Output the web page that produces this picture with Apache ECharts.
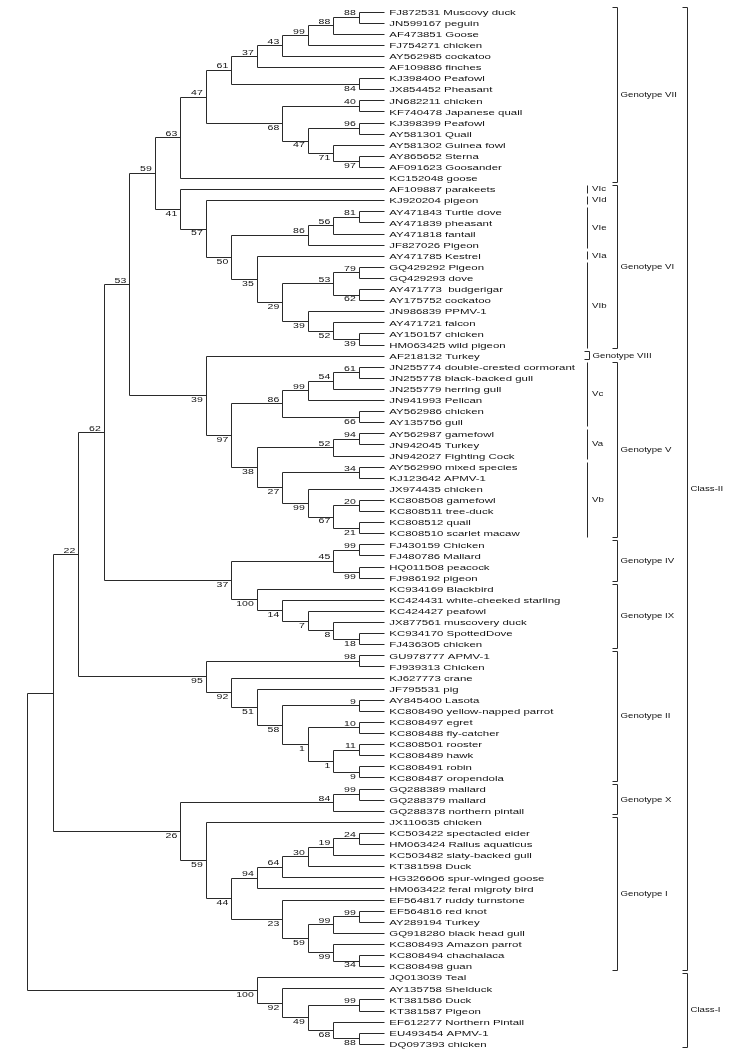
<!DOCTYPE html>
<html><head><meta charset="utf-8">
<script src="https://cdn.jsdelivr.net/npm/echarts@6/dist/echarts.min.js"></script>
<style>html,body{margin:0;padding:0;background:#fff}#c{width:747px;height:1056px}</style>
</head><body><div id="c"></div>
<script>
// ---------- DATA ----------
const leafNames = [
"FJ872531 Muscovy duck","JN599167 peguin","AF473851 Goose","FJ754271 chicken","AY562985 cockatoo",
"AF109886 finches","KJ398400 Peafowl","JX854452 Pheasant","JN682211 chicken","KF740478 Japanese quail",
"KJ398399 Peafowl","AY581301 Quail","AY581302 Guinea fowl","AY865652 Sterna","AF091623 Goosander",
"KC152048 goose","AF109887 parakeets","KJ920204 pigeon","AY471843 Turtle dove","AY471839 pheasant",
"AY471818 fantail","JF827026 Pigeon","AY471785 Kestrel","GQ429292 Pigeon","GQ429293 dove",
"AY471773  budgerigar","AY175752 cockatoo","JN986839 PPMV-1","AY471721 falcon","AY150157 chicken",
"HM063425 wild pigeon","AF218132 Turkey","JN255774 double-crested cormorant","JN255778 black-backed gull","JN255779 herring gull",
"JN941993 Pelican","AY562986 chicken","AY135756 gull","AY562987 gamefowl","JN942045 Turkey",
"JN942027 Fighting Cock","AY562990 mixed species","KJ123642 APMV-1","JX974435 chicken","KC808508 gamefowl",
"KC808511 tree-duck","KC808512 quail","KC808510 scarlet macaw","FJ430159 Chicken","FJ480786 Mallard",
"HQ011508 peacock","FJ986192 pigeon","KC934169 Blackbird","KC424431 white-cheeked starling","KC424427 peafowl",
"JX877561 muscovery duck","KC934170 SpottedDove","FJ436305 chicken","GU978777 APMV-1","FJ939313 Chicken",
"KJ627773 crane","JF795531 pig","AY845400 Lasota","KC808490 yellow-napped parrot","KC808497 egret",
"KC808488 fly-catcher","KC808501 rooster","KC808489 hawk","KC808491 robin","KC808487 oropendola",
"GQ288389 mallard","GQ288379 mallard","GQ288378 northern pintail","JX110635 chicken","KC503422 spectacled eider",
"HM063424 Rallus aquaticus","KC503482 slaty-backed gull","KT381598 Duck","HG326606 spur-winged goose","HM063422 feral migroty bird",
"EF564817 ruddy turnstone","EF564816 red knot","AY289194 Turkey","GQ918280 black head gull","KC808493 Amazon parrot",
"KC808494 chachalaca","KC808498 guan","JQ013039 Teal","AY135758 Shelduck","KT381586 Duck",
"KT381587 Pigeon","EF612277 Northern Pintail","EU493454 APMV-1","DQ097393 chicken"
];

// Topology in Newick form: numbers inside are leaf numbers (1-based), numbers after ')' are bootstrap values
const cladeVII  = "((((((((1,2)88,3)88,4)99,5)43,6)37,(7,8)84)61,((9,10)40,((11,12)96,(13,(14,15)97)71)47)68)47,16)63";
const cladeVI   = "(17,(18,((((19,20)81,21)56,22)86,(23,(((24,25)79,(26,27)62)53,(28,(29,(30,31)39)52)39)29)35)50)57)41";
const cladeV    = "(32,(((((33,34)61,35)54,36)99,(37,38)66)86,(((39,40)94,41)52,((42,43)34,(44,((45,46)20,(47,48)21)67)99)27)38)97)39";
const cladeIVIX = "(((49,50)99,(51,52)99)45,(53,(54,(55,(56,(57,58)18)8)7)14)100)37";
const cladeII   = "((59,60)98,(61,(62,((63,64)9,((65,66)10,((67,68)11,(69,70)9)1)1)58)51)92)95";
const cladeXI   = "(((71,72)99,73)84,(74,((((((75,76)24,77)19,78)30,79)64,80)94,(81,(((82,83)99,84)99,(85,(86,87)34)99)59)23)44)59)26";
const cladeClassI = "(88,(89,((90,91)99,(92,(93,94)88)68)49)92)100";
const treeNewick = "((((((" + cladeVII + "," + cladeVI + ")59," + cladeV + ")53," + cladeIVIX + ")62," + cladeII + ")22," + cladeXI + ")," + cladeClassI + ")";

// Group brackets on the right
const cladeNames = ["Genotype VII","VIc","VId","VIe","VIa","VIb","Genotype VI","Genotype VIII","Vc","Va","Vb","Genotype V",
  "Genotype IV","Genotype IX","Genotype II","Genotype X","Genotype I","Class-II","Class-I"];
const cladeFirstLeaf = [1,17,18,19,23,24,17,32,33,39,42,33,49,53,59,71,74,1,88];
const cladeLastLeaf  = [16,17,18,22,23,31,31,32,38,41,48,48,52,58,70,73,87,87,94];
const cladeRank = ["genotype","sub","sub","sub","sub","sub","genotype","genotype","sub","sub","sub","genotype",
  "genotype","genotype","genotype","genotype","genotype","class","class"];

// ---------- TREE BUILD ----------
function parseNewick(s){
  let i=0;
  function num(){ const j=i; while(i<s.length && /[0-9]/.test(s[i])) i++; return s.slice(j,i); }
  function node(){
    if(s[i]==='('){
      i++; const kids=[node()];
      while(s[i]===','){ i++; kids.push(node()); }
      i++;
      const sup=num();
      const n={kids, support: sup===''?null:sup};
      kids.forEach((k,idx)=>{k.parent=n; k.first = idx===0;});
      return n;
    }
    return {leaf: +num()-1};
  }
  return node();
}
const root = parseNewick(treeNewick);
const internals = [];
(function lay(n){
  if(n.kids){
    n.kids.forEach(lay);
    n.h = Math.max(...n.kids.map(k=>k.h))+1;
    n.y = (n.kids[0].y + n.kids[n.kids.length-1].y)/2;
    internals.push(n);
  } else { n.h=0; n.y=n.leaf; }
})(root);

// ---------- LAYOUT CONSTANTS (pixels) ----------
const W=747, H=1056, LEAF_X=384.8, COL=25.5, TOP=12, ROW=11.1;
const LINE='#2a2a2a', TXT='#111';
const SUB_X=587, GEN_X=617, CLS_X=687;

const snap = v => Math.round(v-0.5)+0.5;
function ln(x1,y1,x2,y2){ return {type:'line', shape:{x1:snap(x1),y1:snap(y1),x2:snap(x2),y2:snap(y2)}, style:{stroke:LINE,lineWidth:1}}; }
function txt(x,y,s,size,sx,align,valign){
  return {type:'text', x:x, y:y, scaleX:sx, scaleY:1,
    style:{text:s, fill:TXT, fontSize:size, fontFamily:'Liberation Sans, Arial, sans-serif', align:align, verticalAlign:valign}};
}

const chart = echarts.init(document.getElementById('c'), null, {renderer:'canvas'});
chart.setOption({
  animation:false,
  backgroundColor:'#fff',
  grid:{left:0,right:0,top:0,bottom:0,containLabel:false},
  xAxis:{type:'value', show:false, inverse:true, min:-(W-LEAF_X)/COL, max:LEAF_X/COL},
  yAxis:{type:'value', show:false, inverse:true, min:-TOP/ROW, max:(H-TOP)/ROW},
  series:[
    { // branches + bootstrap values
      type:'custom', silent:true,
      data: internals.map(n=>[n.h,n.y]),
      renderItem:function(params, api){
        const n = internals[params.dataIndex];
        const p = api.coord([n.h, n.y]);
        const ch = [];
        const a = api.coord([n.h, n.kids[0].y]);
        const b = api.coord([n.h, n.kids[n.kids.length-1].y]);
        ch.push(ln(p[0],a[1],p[0],b[1]));
        n.kids.forEach(k=>{
          const q = api.coord([k.h, k.y]);
          ch.push(ln(p[0],q[1],q[0],q[1]));
        });
        if(n.support!==null && n.parent){
          if(n.first) ch.push(txt(p[0]-3.5, p[1]-0.5, n.support, 7, 1.5, 'right', 'bottom'));
          else ch.push(txt(p[0]-3.5, p[1]+1, n.support, 7, 1.5, 'right', 'top'));
        }
        return {type:'group', children:ch};
      }
    },
    { // leaf labels
      type:'custom', silent:true,
      data: leafNames.map((nm,i)=>[0,i]),
      renderItem:function(params, api){
        const p = api.coord([0, params.dataIndex]);
        return txt(p[0]+4.5, p[1]+0.5, leafNames[params.dataIndex], 8, 1.43, 'left', 'middle');
      }
    },
    { // group brackets
      type:'custom', silent:true,
      data: cladeNames.map((nm,i)=>[0,(cladeFirstLeaf[i]+cladeLastLeaf[i])/2-1]),
      renderItem:function(params, api){
        const i = params.dataIndex;
        const t = api.coord([0, cladeFirstLeaf[i]-1])[1]-4.5;
        const b = api.coord([0, cladeLastLeaf[i]-1])[1]+3.5;
        const m = (t+b)/2;
        const rank = cladeRank[i];
        const ch=[];
        if(rank==='sub'){
          ch.push(ln(SUB_X,t,SUB_X,b));
          ch.push(txt(SUB_X+5, m, cladeNames[i], 7, 1.38, 'left', 'middle'));
        } else {
          let x = rank==='class' ? CLS_X : GEN_X;
          if(rank==='genotype' && cladeFirstLeaf[i]===cladeLastLeaf[i]) x = SUB_X+2;
          ch.push(ln(x,t,x,b));
          ch.push(ln(x-5,t,x,t));
          ch.push(ln(x-5,b,x,b));
          ch.push(txt(x+3.5, m, cladeNames[i], 7, 1.38, 'left', 'middle'));
        }
        return {type:'group', children:ch};
      }
    }
  ]
});
</script>
</body></html>
